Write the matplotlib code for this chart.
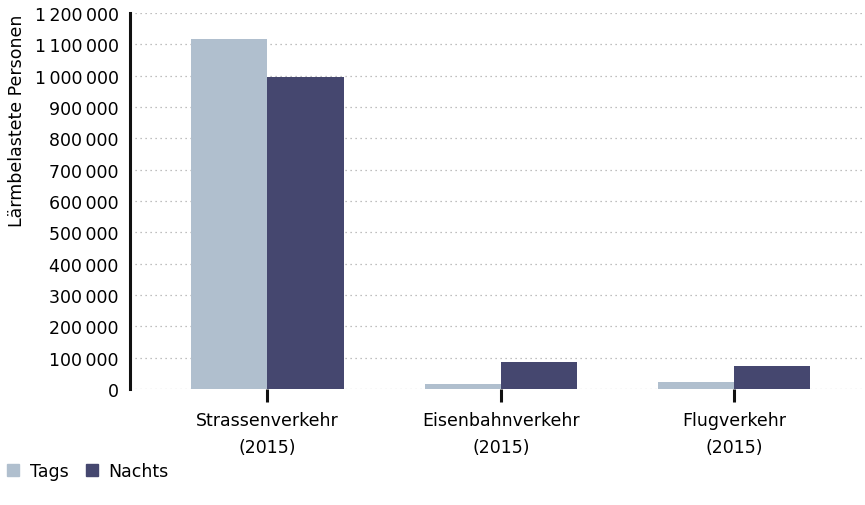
import matplotlib.pyplot as plt
import numpy as np
from matplotlib.ticker import FuncFormatter
from matplotlib.patches import Patch

# Daten
kategorien = ['Strassenverkehr\n(2015)', 'Eisenbahnverkehr\n(2015)', 'Flugverkehr\n(2015)']
tags = [1117000, 15000, 23000]
nachts = [995000, 86000, 74000]

farbe_tags = '#b0bfce'
farbe_nachts = '#45476f'

plt.rcParams['font.family'] = ['DejaVu Sans']

fig = plt.figure(figsize=(8.65, 5.06), dpi=100)
ax = fig.add_axes([0.150, 0.229, 0.850, 0.743])

x = np.arange(len(kategorien))
breite = 0.326
ax.bar(x - breite / 2, tags, width=breite, color=farbe_tags, zorder=3)
ax.bar(x + breite / 2, nachts, width=breite, color=farbe_nachts, zorder=3)

ax.set_xlim(-0.59, 2.56)
ax.set_ylim(0, 1200000)
ax.set_yticks(np.arange(0, 1200001, 100000))
ax.yaxis.set_major_formatter(FuncFormatter(lambda v, p: f'{int(v):,}'.replace(',', '\u2009')))
ax.set_xticks(x)
ax.set_xticklabels(kategorien, fontsize=12.5, linespacing=1.6)

ax.grid(axis='y', linestyle=(0, (1, 3)), color='#aaaaaa', linewidth=0.9, zorder=0)
for s in ['top', 'right', 'bottom']:
    ax.spines[s].set_visible(False)
ax.spines['left'].set_linewidth(2.2)
ax.spines['left'].set_color('#111111')

ax.tick_params(axis='y', length=0, labelsize=12.5, pad=8)
ax.tick_params(axis='x', length=9, width=2.2, color='#111111', labelsize=12.5, pad=7)

ax.set_ylabel('Lärmbelastete Personen', fontsize=12.5, loc='top', labelpad=6)

handles = [Patch(color=farbe_tags, label='Tags'), Patch(color=farbe_nachts, label='Nachts')]
fig.legend(handles=handles, loc='lower left', bbox_to_anchor=(0.0, 0.035), ncol=2, frameon=False,
           fontsize=12.5, handlelength=0.7, handleheight=0.7, handletextpad=0.6, columnspacing=1.0,
           borderaxespad=0.0)

fig.savefig('out.png', dpi=100)
